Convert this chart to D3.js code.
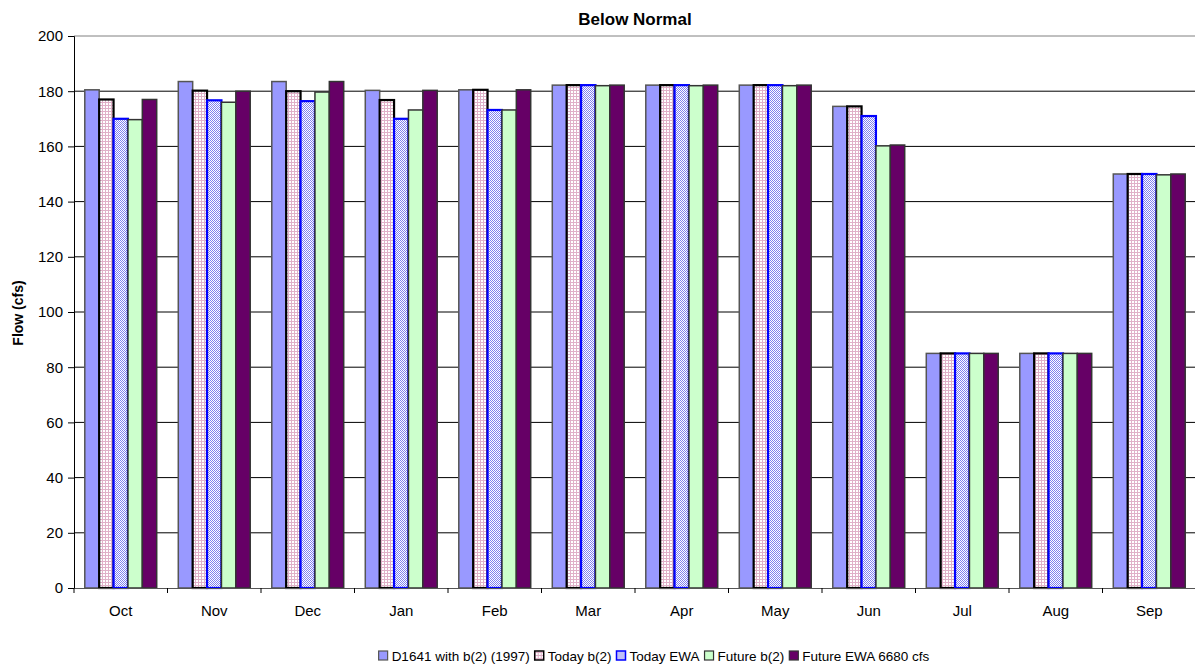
<!DOCTYPE html>
<html><head><meta charset="utf-8">
<script src="https://cdn.jsdelivr.net/npm/d3@7"></script>
<style>body{margin:0;background:#fff;}svg{font-family:"Liberation Sans",Arial,sans-serif;}</style>
</head><body>
<svg id="chart" width="1195" height="667"></svg>
<script>
const months = ["Oct","Nov","Dec","Jan","Feb","Mar","Apr","May","Jun","Jul","Aug","Sep"];
const seriesNames = ["D1641 with b(2) (1997)","Today b(2)","Today EWA","Future b(2)","Future EWA 6680 cfs"];
const d1641   = [180.5,183.5,183.5,180.3,180.5,182.2,182.2,182.2,174.5,85,85,150];
const todayB2 = [177,180.2,180,176.8,180.5,182.2,182.2,182.2,174.5,85,85,150];
const todayEWA= [170,176.7,176.4,170,173.2,182.2,182.2,182.2,171,85,85,150];
const futureB2= [169.7,176,179.7,173.2,173.2,182,182,182,160.2,85,85,149.7];
const futureEWA=[177,180,183.5,180.3,180.5,182.2,182.2,182.2,160.5,85,85,150];
const yTicks = [0,20,40,60,80,100,120,140,160,180,200];

const seriesVals = [d1641,todayB2,todayEWA,futureB2,futureEWA];
const fills = ["#9999FF","url(#pinkgrid)","url(#bluecheck)","#CCFFCC","#660066"];
const strokes = ["#555","#000","#0000FF","#333","#333"];
const strokeW = [1.5,2.2,2.2,1.5,1.5];

const svg = d3.select("#chart");
const defs = svg.append("defs");
const pg = defs.append("pattern").attr("id","pinkgrid").attr("width",3).attr("height",3).attr("patternUnits","userSpaceOnUse");
pg.append("rect").attr("width",3).attr("height",3).attr("fill","#fff");
pg.append("rect").attr("width",3).attr("height",1).attr("fill","#e0b0c8");
pg.append("rect").attr("width",1).attr("height",3).attr("fill","#e0b0c8");
const bc = defs.append("pattern").attr("id","bluecheck").attr("width",2).attr("height",2).attr("patternUnits","userSpaceOnUse");
bc.append("rect").attr("width",2).attr("height",2).attr("fill","#fff");
bc.append("rect").attr("width",1).attr("height",1).attr("fill","#8080f0");
bc.append("rect").attr("x",1).attr("y",1).attr("width",1).attr("height",1).attr("fill","#8080f0");

const L=74, R=1196, T=36, B=588;
const x = d3.scaleBand().domain(months).range([L,R]).paddingInner(0).paddingOuter(0);
const y = d3.scaleLinear().domain([0,200]).range([B,T]);
const xs = d3.scaleBand().domain(d3.range(5)).range([0,x.bandwidth()]).paddingOuter(0.75).paddingInner(0);

// gridlines
svg.append("g").selectAll("line").data(yTicks.filter(d=>d>0 && d<200)).join("line")
  .attr("x1",L).attr("x2",R).attr("y1",d=>y(d)).attr("y2",d=>y(d)).attr("stroke","#000").attr("stroke-width",1);
// top border
svg.append("line").attr("x1",L).attr("x2",R).attr("y1",y(200)).attr("y2",y(200)).attr("stroke","#808080");

// bars
seriesVals.forEach((vals,si)=>{
  svg.append("g").selectAll("rect").data(months).join("rect")
    .attr("x",(m)=>x(m)+xs(si))
    .attr("y",(m,i)=>y(vals[i]))
    .attr("width",xs.bandwidth())
    .attr("height",(m,i)=>B-y(vals[i]))
    .attr("fill",fills[si]).attr("stroke",strokes[si]).attr("stroke-width",strokeW[si]);
});

// y axis
const yAxis = d3.axisLeft(y).tickValues(yTicks).tickSize(6).tickPadding(5);
const yg = svg.append("g").attr("transform",`translate(${L},0)`).call(yAxis);
yg.select(".domain").attr("stroke","#000");
yg.selectAll(".tick line").attr("stroke","#000");
yg.selectAll("text").attr("font-size",15).attr("fill","#000").attr("font-family","Liberation Sans, Arial, sans-serif");

// x axis
const xg = svg.append("g").attr("transform",`translate(0,${B})`).call(d3.axisBottom(x).tickSize(0).tickPadding(17));
xg.select(".domain").attr("stroke","#555");
xg.selectAll("text").attr("font-size",15).attr("fill","#000").attr("font-family","Liberation Sans, Arial, sans-serif");
// category separators ticks
svg.append("g").selectAll("line").data(months.concat(["end"])).join("line")
  .attr("x1",(m,i)=>L+i*x.bandwidth()).attr("x2",(m,i)=>L+i*x.bandwidth())
  .attr("y1",B).attr("y2",B+5).attr("stroke","#000");

// title
svg.append("text").attr("x",(L+R)/2).attr("y",25).attr("text-anchor","middle")
  .attr("font-size",17).attr("font-weight","bold").text("Below Normal");
// y label
svg.append("text").attr("transform",`translate(23,${(T+B)/2 + 1}) rotate(-90)`).attr("text-anchor","middle")
  .attr("font-size",14).attr("font-weight","bold").text("Flow (cfs)");

// legend
const lg = svg.append("g");
let cx = 0;
seriesNames.forEach((n,i)=>{
  const g = lg.append("g").attr("transform",`translate(${cx},0)`);
  g.append("rect").attr("x",0).attr("y",-10).attr("width",9).attr("height",9)
    .attr("fill",fills[i]).attr("stroke",strokes[i]).attr("stroke-width",i===1||i===2?1.5:1.2);
  const t = g.append("text").attr("x",13).attr("y",0).attr("font-size",13.5).text(n);
  const w = t.node().getComputedTextLength();
  cx += 13 + w + 5;
});
const totalW = cx - 5;
lg.attr("transform",`translate(${654 - totalW/2},661)`);
</script>
</body></html>
